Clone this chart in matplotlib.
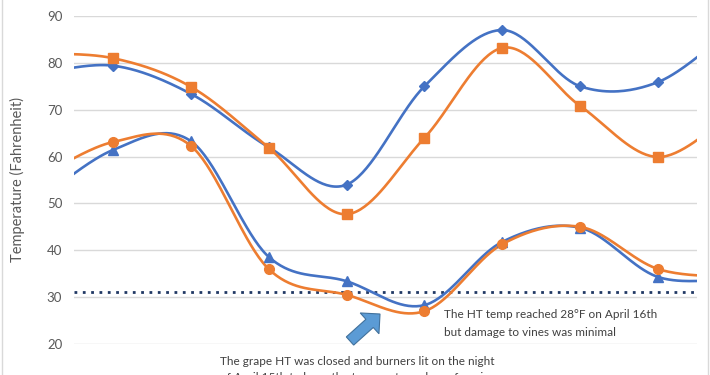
import numpy as np
import matplotlib.pyplot as plt
from matplotlib.patches import FancyArrow
from matplotlib.lines import Line2D

# readings per day (x = 0..7 visible); the first and last entries sit just
# outside the visible window so the curves run to the plot edges
days = [-1, 0, 1, 2, 3, 4, 5, 6, 7, 8]
high_outside = [77.5, 79.4, 73.4, 62.0, 54.0, 75.0, 87.0, 75.0, 75.9, 88.0]
high_ht = [82.0, 81.0, 74.9, 61.9, 47.7, 64.0, 83.2, 70.8, 59.9, 70.0]
low_outside = [50.0, 61.4, 63.3, 38.6, 33.4, 28.3, 41.8, 44.8, 34.3, 34.0]
low_ht = [55.0, 63.1, 62.3, 36.0, 30.5, 27.0, 41.3, 45.0, 36.0, 34.3]
freeze_line = 31.1

BLUE = '#4472C4'
ORANGE = '#ED7D31'

plt.rcParams['font.family'] = ['Lato', 'DejaVu Sans']


def smooth(xs, ys, n=40):
    # catmull-rom spline, similar to excel's smoothed line
    x = np.asarray(xs, float)
    y = np.asarray(ys, float)
    px = np.concatenate([[x[0]], x, [x[-1]]])
    py = np.concatenate([[y[0]], y, [y[-1]]])
    out_x, out_y = [], []
    t = np.linspace(0, 1, n)
    for i in range(1, len(px) - 2):
        for arr, out in ((px, out_x), (py, out_y)):
            p0, p1, p2, p3 = arr[i - 1], arr[i], arr[i + 1], arr[i + 2]
            out.extend(0.5 * ((2 * p1) + (-p0 + p2) * t
                              + (2 * p0 - 5 * p1 + 4 * p2 - p3) * t ** 2
                              + (-p0 + 3 * p1 - 3 * p2 + p3) * t ** 3))
    return out_x, out_y


fig = plt.figure(figsize=(7.1, 3.75), dpi=100)
ax = fig.add_axes([74 / 710, 1 - 344 / 375, (697 - 74) / 710, (344 - 16) / 375])

series = [
    (high_outside, BLUE, 'D', 5.5),
    (high_ht, ORANGE, 's', 6.5),
    (low_outside, BLUE, '^', 6.5),
    (low_ht, ORANGE, 'o', 7),
]
for vals, col, mk, ms in series:
    sx, sy = smooth(days, vals)
    ax.plot(sx, sy, color=col, lw=1.9, zorder=3)
    ax.plot(days[1:-1], vals[1:-1], ls='none', marker=mk, ms=ms,
            color=col, zorder=4)

ax.axhline(freeze_line, color='#203864', lw=2, ls=(0, (1, 2)), zorder=2)

ax.set_xlim(-0.5, 7.5)
ax.set_ylim(20, 90)
ax.set_yticks(range(20, 91, 10))
ax.set_xticks([])
ax.grid(axis='y', color='#D9D9D9', lw=1)
ax.set_axisbelow(True)
for s in ax.spines.values():
    s.set_visible(False)
ax.tick_params(axis='y', length=0, pad=8.5, labelsize=9.5, labelcolor='#595959')
ax.set_ylabel('Temperature (Fahrenheit)', fontsize=10.5, color='#595959')
ax.yaxis.set_label_coords((25 - 74) / 623, 0.5)

fig.text(444 / 710, 1 - 309 / 375,
         'The HT temp reached 28°F on April 16th\nbut damage to vines was minimal',
         fontsize=8.5, color='#404040', va='top', linespacing=1.75)
fig.text(220 / 710, 1 - 356 / 375,
         'The grape HT was closed and burners lit on the night\n'
         'of April 15th to keep the temperature above freezing',
         fontsize=8.5, color='#404040', va='top', linespacing=1.6)

# block arrow, drawn in inches so its shape is not stretched
arrow = FancyArrow(3.50, (375 - 341) / 100, 0.30, 0.27,
                   width=0.11, head_width=0.28, head_length=0.14,
                   length_includes_head=True, transform=fig.dpi_scale_trans,
                   facecolor='#5B9BD5', edgecolor='#41719C', lw=0.8)
fig.patches.append(arrow)

for xf in (2 / 710, 708 / 710):
    fig.add_artist(Line2D([xf, xf], [0, 1], color='#D9D9D9', lw=1,
                          transform=fig.transFigure))

fig.savefig('out.png', dpi=100)
